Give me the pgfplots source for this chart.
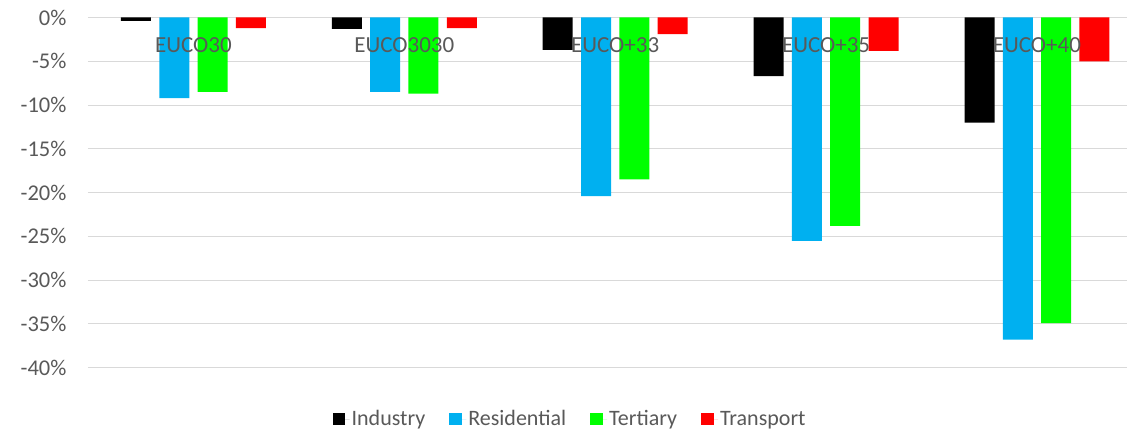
\documentclass[border=0pt]{standalone}
\usepackage{fontspec}
\setmainfont{Carlito}
\usepackage{pgfplots}
\pgfplotsset{compat=1.18}
\definecolor{txtgray}{HTML}{595959}
\definecolor{gridgray}{HTML}{D9D9D9}
\definecolor{cIndustry}{HTML}{000000}
\definecolor{cResidential}{HTML}{00B0F0}
\definecolor{cTertiary}{HTML}{00FF00}
\definecolor{cTransport}{HTML}{FF0000}
\begin{document}
\begin{tikzpicture}
\path[use as bounding box] (0pt,0pt) rectangle (1127pt,433pt);
\begin{axis}[
  at={(88pt,65.3pt)}, anchor=south west,
  scale only axis,
  width=1039pt, height=350.2pt,
  xmin=-0.5, xmax=4.427,
  ymin=-40, ymax=0,
  ybar=8.3pt, bar width=30pt,
  axis line style={draw=none},
  major tick length=0pt,
  ymajorgrids,
  grid style={gridgray, line width=1pt},
  ytick={-40,-35,-30,-25,-20,-15,-10,-5,0},
  yticklabels={-40\%,-35\%,-30\%,-25\%,-20\%,-15\%,-10\%,-5\%,0\%},
  xtick={0,1,2,3,4},
  xticklabels={},
  tick label style={font=\fontsize{22.5}{27}\selectfont, text=txtgray},
  y tick label style={anchor=east, xshift=-18pt},
  legend columns=-1,
  legend style={at={(0.464,-0.1465)}, anchor=center, draw=none,
    font=\fontsize{22}{26}\selectfont, text=txtgray,
    /tikz/every even column/.append style={column sep=22pt}},
  legend image code/.code={%
    \fill[#1] (0pt,-6.3pt) rectangle (12.6pt,6.3pt);
    \path (12.6pt,0pt) -- (17pt,0pt);},
]
\addplot[fill=cIndustry, draw=none] coordinates {(0,-0.4) (1,-1.3) (2,-3.7) (3,-6.7) (4,-12.0)};
\addplot[fill=cResidential, draw=none] coordinates {(0,-9.2) (1,-8.5) (2,-20.4) (3,-25.5) (4,-36.8)};
\addplot[fill=cTertiary, draw=none] coordinates {(0,-8.5) (1,-8.7) (2,-18.5) (3,-23.8) (4,-34.9)};
\addplot[fill=cTransport, draw=none] coordinates {(0,-1.2) (1,-1.2) (2,-1.9) (3,-3.8) (4,-5.0)};
\legend{Industry,Residential,Tertiary,Transport}
% category names, printed over the bars just below the zero line
\foreach \i/\name in {0/EUCO30,1/EUCO3030,2/EUCO+33,3/EUCO+35,4/EUCO+40}{
  \edef\tmp{\noexpand\node[anchor=north, yshift=-17pt, text=txtgray,
    font=\noexpand\fontsize{23}{27}\noexpand\selectfont]
    at (axis cs:\i,0) {\name};}
  \tmp
}
\end{axis}
\end{tikzpicture}
\end{document}
